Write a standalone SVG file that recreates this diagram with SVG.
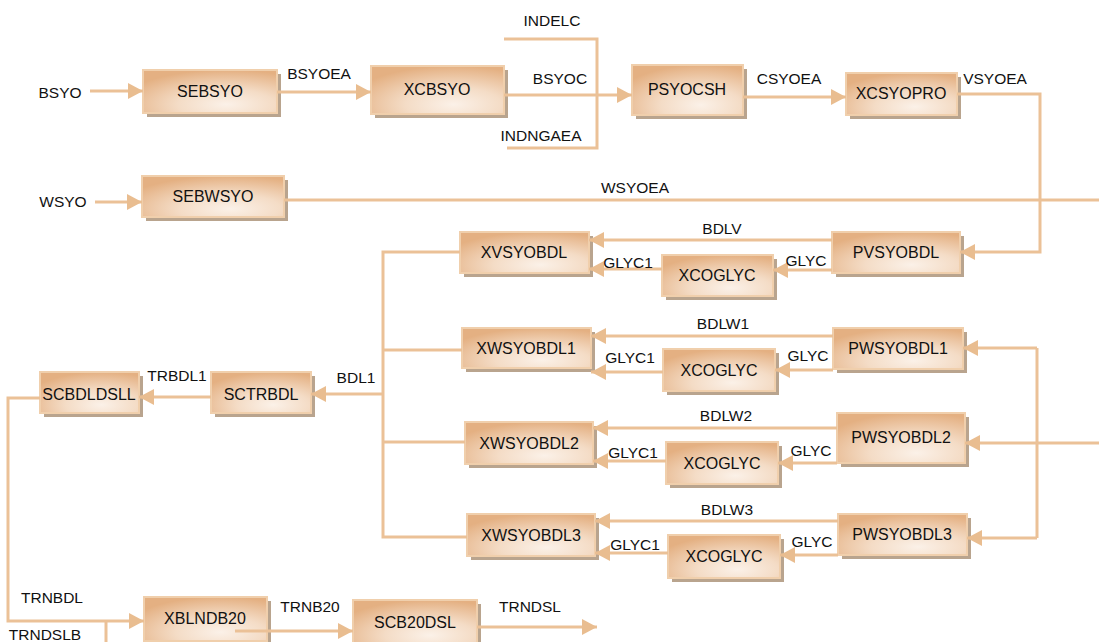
<svg xmlns="http://www.w3.org/2000/svg" width="1099" height="642" viewBox="0 0 1099 642">
  <style>
    .box { fill: url(#boxFill); stroke: #f0cfac; stroke-width: 2; }
    .shadow { fill: #b9a48e; }
    .name { font-family: "Liberation Sans", Arial, sans-serif; font-size: 16px; fill: #111; text-anchor: middle; }
    .lbl { font-family: "Liberation Sans", Arial, sans-serif; font-size: 15.5px; fill: #111; text-anchor: middle; }
    .wire { fill: none; stroke: #ebc197; stroke-width: 3; }
    .arr { marker-end: url(#head); }
  </style>
  <defs>
    <radialGradient id="boxFill" cx="0.62" cy="0.8" r="0.8" fx="0.62" fy="0.8">
      <stop offset="0" stop-color="#fbf1e8"/>
      <stop offset="0.45" stop-color="#f4dcc6"/>
      <stop offset="1" stop-color="#e4b082"/>
    </radialGradient>
    <marker id="head" markerUnits="userSpaceOnUse" markerWidth="16" markerHeight="16" refX="15" refY="8" orient="auto">
      <path d="M0,0 L15,8 L0,16 Z" fill="#e9bd90"/>
    </marker>
  </defs>

  <!-- process nodes -->
  <g id="SEBSYO"><rect class="shadow" x="147" y="74" width="134" height="43"/><rect class="box" x="143" y="70" width="134" height="43"/><text class="name" x="210" y="97">SEBSYO</text></g>
  <g id="XCBSYO"><rect class="shadow" x="375" y="70" width="133" height="48"/><rect class="box" x="371" y="66" width="133" height="48"/><text class="name" x="437" y="95">XCBSYO</text></g>
  <g id="PSYOCSH"><rect class="shadow" x="636" y="69" width="111" height="50"/><rect class="box" x="632" y="65" width="111" height="50"/><text class="name" x="687" y="95">PSYOCSH</text></g>
  <g id="XCSYOPRO"><rect class="shadow" x="850" y="77" width="111" height="42"/><rect class="box" x="846" y="73" width="111" height="42"/><text class="name" x="901" y="99">XCSYOPRO</text></g>
  <g id="SEBWSYO"><rect class="shadow" x="146" y="180" width="142" height="41"/><rect class="box" x="142" y="176" width="142" height="41"/><text class="name" x="213" y="202">SEBWSYO</text></g>

  <g id="XVSYOBDL"><rect class="shadow" x="464" y="236" width="129" height="41"/><rect class="box" x="460" y="232" width="129" height="41"/><text class="name" x="524" y="258">XVSYOBDL</text></g>
  <g id="XCOGLYC-V"><rect class="shadow" x="666" y="259" width="111" height="41"/><rect class="box" x="662" y="255" width="111" height="41"/><text class="name" x="717" y="281">XCOGLYC</text></g>
  <g id="PVSYOBDL"><rect class="shadow" x="836" y="236" width="128" height="41"/><rect class="box" x="832" y="232" width="128" height="41"/><text class="name" x="896" y="258">PVSYOBDL</text></g>

  <g id="XWSYOBDL1"><rect class="shadow" x="466" y="332" width="129" height="40"/><rect class="box" x="462" y="328" width="129" height="40"/><text class="name" x="526" y="354">XWSYOBDL1</text></g>
  <g id="XCOGLYC-W1"><rect class="shadow" x="667" y="353" width="112" height="42"/><rect class="box" x="663" y="349" width="112" height="42"/><text class="name" x="719" y="376">XCOGLYC</text></g>
  <g id="PWSYOBDL1"><rect class="shadow" x="837" y="332" width="130" height="41"/><rect class="box" x="833" y="328" width="130" height="41"/><text class="name" x="898" y="354">PWSYOBDL1</text></g>

  <g id="XWSYOBDL2"><rect class="shadow" x="469" y="426" width="128" height="42"/><rect class="box" x="465" y="422" width="128" height="42"/><text class="name" x="529" y="449">XWSYOBDL2</text></g>
  <g id="XCOGLYC-W2"><rect class="shadow" x="670" y="446" width="112" height="42"/><rect class="box" x="666" y="442" width="112" height="42"/><text class="name" x="722" y="469">XCOGLYC</text></g>
  <g id="PWSYOBDL2"><rect class="shadow" x="841" y="417" width="128" height="50"/><rect class="box" x="837" y="413" width="128" height="50"/><text class="name" x="901" y="443">PWSYOBDL2</text></g>

  <g id="XWSYOBDL3"><rect class="shadow" x="471" y="518" width="128" height="42"/><rect class="box" x="467" y="514" width="128" height="42"/><text class="name" x="531" y="541">XWSYOBDL3</text></g>
  <g id="XCOGLYC-W3"><rect class="shadow" x="672" y="539" width="112" height="43"/><rect class="box" x="668" y="535" width="112" height="43"/><text class="name" x="724" y="562">XCOGLYC</text></g>
  <g id="PWSYOBDL3"><rect class="shadow" x="842" y="518" width="129" height="41"/><rect class="box" x="838" y="514" width="129" height="41"/><text class="name" x="902" y="540">PWSYOBDL3</text></g>

  <g id="SCBDLDSLL"><rect class="shadow" x="44" y="376" width="99" height="41"/><rect class="box" x="40" y="372" width="99" height="41"/><text class="name" x="89" y="400">SCBDLDSLL</text></g>
  <g id="SCTRBDL"><rect class="shadow" x="215" y="376" width="100" height="41"/><rect class="box" x="211" y="372" width="100" height="41"/><text class="name" x="261" y="400">SCTRBDL</text></g>
  <g id="XBLNDB20"><rect class="shadow" x="148" y="601" width="123" height="44"/><rect class="box" x="144" y="597" width="123" height="44"/><text class="name" x="205" y="624">XBLNDB20</text></g>
  <g id="SCB20DSL"><rect class="shadow" x="357" y="604" width="124" height="44"/><rect class="box" x="353" y="600" width="124" height="44"/><text class="name" x="415" y="628">SCB20DSL</text></g>

  <!-- flows -->
  <g id="connectors">
    <path class="wire arr" d="M90,91 H143"/>
    <path class="wire arr" d="M277,92 H371"/>
    <path class="wire arr" d="M504,95 H632"/>
    <path class="wire" d="M504,39 H597 V148 H507"/>
    <path class="wire arr" d="M743,97 H846"/>
    <path class="wire arr" d="M957,94 H1040 V252 H960"/>
    <path class="wire arr" d="M95,202 H142"/>
    <path class="wire" d="M284,200 H1099"/>

    <path class="wire arr" d="M832,240 H589"/>
    <path class="wire arr" d="M832,270 H773"/>
    <path class="wire arr" d="M662,269 H589"/>

    <path class="wire arr" d="M833,336 H591"/>
    <path class="wire arr" d="M833,370 H775"/>
    <path class="wire arr" d="M663,372 H591"/>

    <path class="wire arr" d="M837,428 H593"/>
    <path class="wire arr" d="M837,463 H778"/>
    <path class="wire arr" d="M666,461 H593"/>

    <path class="wire arr" d="M838,521 H595"/>
    <path class="wire arr" d="M838,555 H780"/>
    <path class="wire arr" d="M668,553 H595"/>

    <path class="wire" d="M460,252 H383 V537 H467"/>
    <path class="wire" d="M462,350 H383"/>
    <path class="wire" d="M465,442 H383"/>
    <path class="wire arr" d="M383,394 H311"/>
    <path class="wire arr" d="M211,397 H139"/>
    <path class="wire arr" d="M40,398 H8 V621 H144"/>
    <path class="wire" d="M106,621 V642"/>
    <path class="wire arr" d="M235,631 H353"/>
    <path class="wire arr" d="M477,627 H597"/>

    <path class="wire arr" d="M1099,443 H965"/>
    <path class="wire" d="M1037,348 V538"/>
    <path class="wire arr" d="M1037,348 H963"/>
    <path class="wire arr" d="M1037,538 H967"/>
  </g>

  <!-- flow labels -->
  <g id="labels">
    <text class="lbl" x="60" y="98">BSYO</text>
    <text class="lbl" x="63" y="207">WSYO</text>
    <text class="lbl" x="319" y="79">BSYOEA</text>
    <text class="lbl" x="552" y="26">INDELC</text>
    <text class="lbl" x="560" y="84">BSYOC</text>
    <text class="lbl" x="541" y="141">INDNGAEA</text>
    <text class="lbl" x="789" y="84">CSYOEA</text>
    <text class="lbl" x="995" y="84">VSYOEA</text>
    <text class="lbl" x="635" y="193">WSYOEA</text>
    <text class="lbl" x="722" y="234">BDLV</text>
    <text class="lbl" x="628" y="268">GLYC1</text>
    <text class="lbl" x="806" y="266">GLYC</text>
    <text class="lbl" x="723" y="329">BDLW1</text>
    <text class="lbl" x="630" y="363">GLYC1</text>
    <text class="lbl" x="808" y="361">GLYC</text>
    <text class="lbl" x="726" y="421">BDLW2</text>
    <text class="lbl" x="633" y="458">GLYC1</text>
    <text class="lbl" x="811" y="456">GLYC</text>
    <text class="lbl" x="727" y="515">BDLW3</text>
    <text class="lbl" x="635" y="550">GLYC1</text>
    <text class="lbl" x="812" y="547">GLYC</text>
    <text class="lbl" x="356" y="383">BDL1</text>
    <text class="lbl" x="177" y="381">TRBDL1</text>
    <text class="lbl" x="52" y="603">TRNBDL</text>
    <text class="lbl" x="45" y="640">TRNDSLB</text>
    <text class="lbl" x="310" y="612">TRNB20</text>
    <text class="lbl" x="530" y="612">TRNDSL</text>
  </g>
</svg>
